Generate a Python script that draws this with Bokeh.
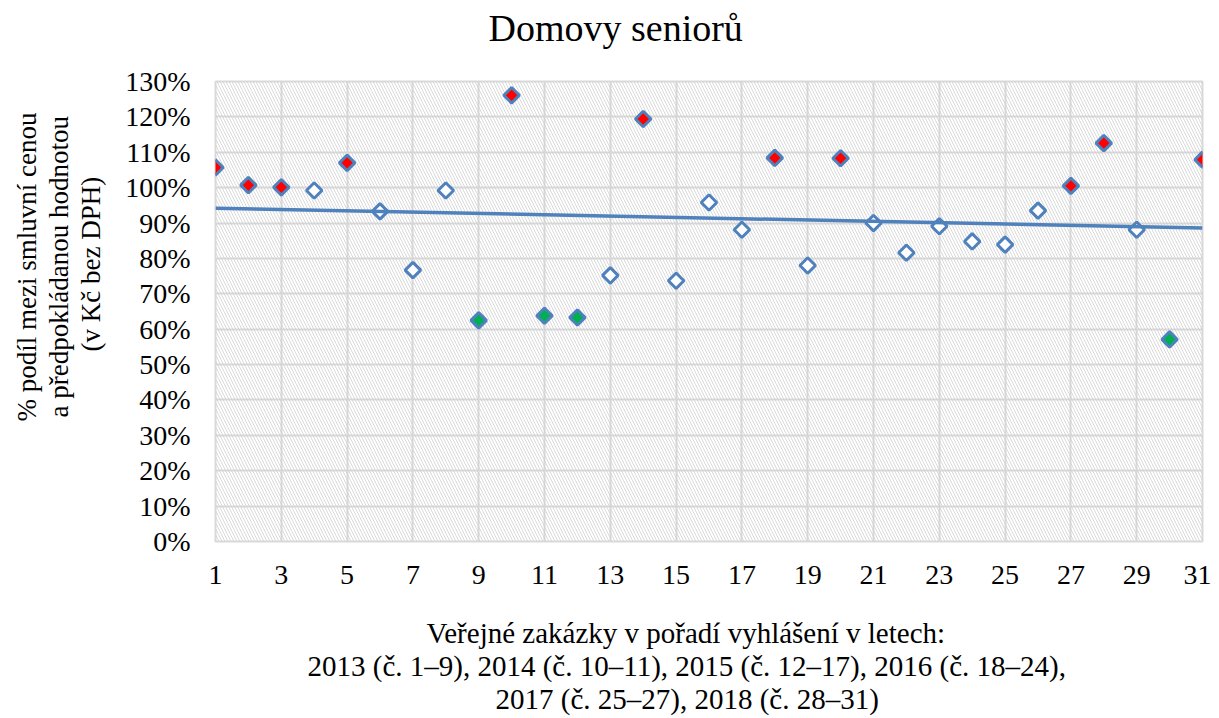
import numpy as np
from math import pi
from bokeh.plotting import figure
from bokeh.models import FixedTicker, BoxAnnotation, ColumnDataSource, Range1d, Title
from bokeh.embed import file_html
from bokeh.resources import INLINE

# ---- data ----
zakazky = list(range(1, 32))
podil = [105.7, 100.7, 100.1, 99.2, 107.0, 93.3, 76.7, 99.2, 62.5, 126.1,
         63.8, 63.3, 75.2, 119.4, 73.7, 95.8, 88.1, 108.4, 78.0, 108.3,
         90.0, 81.6, 89.1, 84.8, 83.9, 93.5, 100.5, 112.6, 88.1, 57.1, 107.9]
kategorie = ["nad", "nad", "nad", "stred", "nad", "stred", "stred", "stred", "pod", "nad",
             "pod", "pod", "stred", "nad", "stred", "stred", "stred", "nad", "stred", "nad",
             "stred", "stred", "stred", "stred", "stred", "stred", "nad", "nad", "stred", "pod", "nad"]
x_ticks = list(range(1, 32, 2))
y_ticks = list(range(0, 131, 10))
y_tick_labels = {v: f"{v}%" for v in y_ticks}

title_text = "Domovy seniorů"
y_label_lines = ["% podíl mezi smluvní cenou", "a předpokládanou hodnotou", "(v Kč bez DPH)"]
x_label_lines = ["Veřejné zakázky v pořadí vyhlášení v letech:",
                 "2013 (č. 1–9), 2014 (č. 10–11), 2015 (č. 12–17), 2016 (č. 18–24),",
                 "2017 (č. 25–27), 2018 (č. 28–31)"]

fill_map = {"nad": "#ff0000", "pod": "#00b050", "stred": "#ffffff"}
BLUE = "#4f81bd"
GRID = "#d9d9d9"
FONT = "Liberation Serif"

p = figure(width=1211, height=718, output_backend="svg", toolbar_location=None,
           x_range=Range1d(1, 31), y_range=Range1d(0, 130),
           min_border_left=215, min_border_right=9, min_border_top=81, min_border_bottom=177)
p.background_fill_color = "white"
p.border_fill_color = "white"
p.outline_line_color = GRID
p.outline_line_width = 2

# hatched plot area
p.add_layout(BoxAnnotation(fill_color=None, line_color=None, hatch_pattern="\\",
                           hatch_color="#cfcfcf", hatch_alpha=0.8, hatch_scale=6,
                           hatch_weight=1, level="underlay"))

p.xaxis.ticker = FixedTicker(ticks=x_ticks)
p.yaxis.ticker = FixedTicker(ticks=y_ticks)
p.yaxis.major_label_overrides = y_tick_labels
for ax in (p.xaxis, p.yaxis):
    ax.axis_line_color = None
    ax.major_tick_line_color = None
    ax.minor_tick_line_color = None
    ax.major_tick_out = 0
    ax.major_tick_in = 0
    ax.major_label_text_font = FONT
    ax.major_label_text_font_size = "28px"
    ax.major_label_text_color = "black"
p.xaxis.major_label_standoff = 24
p.yaxis.major_label_standoff = 25

p.xgrid.grid_line_color = GRID
p.ygrid.grid_line_color = GRID
p.xgrid.grid_line_width = 2
p.ygrid.grid_line_width = 2

src = ColumnDataSource(dict(x=zakazky, y=podil, fill=[fill_map[k] for k in kategorie]))
p.scatter("x", "y", source=src, marker="square", angle=pi / 4, size=11,
          line_color=BLUE, line_width=3, fill_color="fill")

# linear trend (least squares, as in the original)
k, q = np.polyfit(zakazky, podil, 1)
tx = [zakazky[0], zakazky[-1]]
p.line(tx, [k * t + q for t in tx], line_color=BLUE, line_width=3.5)


def spacer(size):
    return Title(text=" ", text_font_size="1px", standoff=size, text_color="white")


def line_title(text, px, offset, standoff=0, valign="bottom"):
    return Title(text=text, align="left", offset=offset, standoff=standoff,
                 vertical_align=valign,
                 text_font=FONT, text_font_size=f"{px}px", text_font_style="normal",
                 text_color="black")


# chart title (above)
p.add_layout(spacer(30), "above")
p.add_layout(line_title(title_text, 38, 273), "above")

# x axis title, three centred lines (below)
p.add_layout(spacer(27), "below")
for txt, off in zip(x_label_lines, [211, 92, 280]):
    p.add_layout(line_title(txt, 29, off, standoff=-1, valign="middle"), "below")

# y axis title, three centred lines (left), innermost first
p.add_layout(spacer(14), "left")
for txt, off in zip(reversed(y_label_lines), [190, 124, 120]):
    p.add_layout(line_title(txt, 27, off), "left")

open("out.html", "w").write(file_html(p, INLINE))
